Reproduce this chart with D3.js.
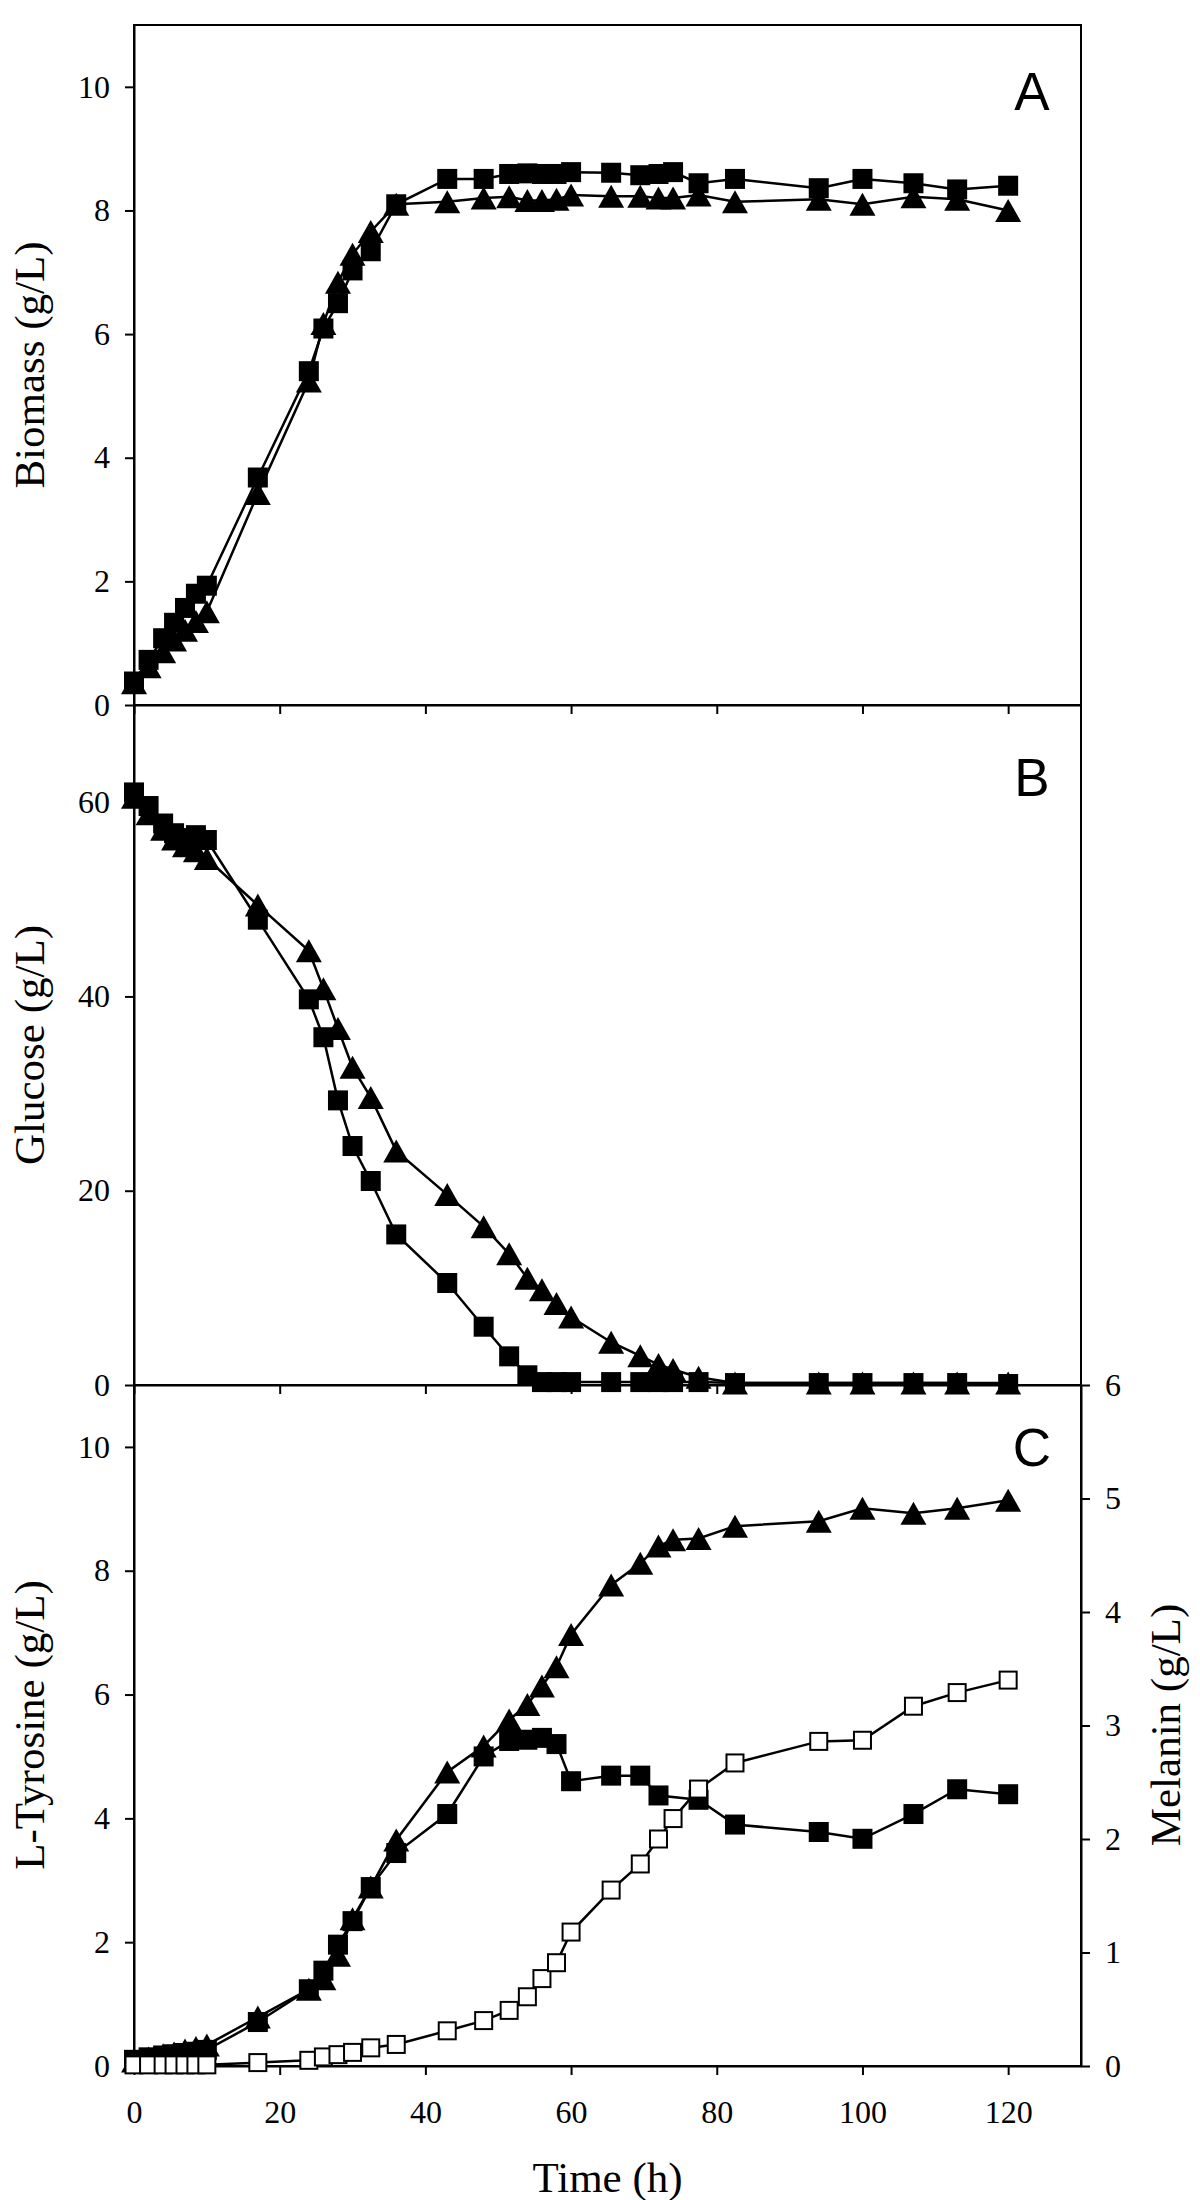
<!doctype html>
<html>
<head>
  <meta charset="utf-8">
  <script src="https://cdnjs.cloudflare.com/ajax/libs/d3/7.8.5/d3.min.js"></script>
  <style>
    body { margin: 0; background: white; }
    text { font-family: 'Liberation Serif', 'Times New Roman', serif; fill: black; }
    .tick text { font-size: 32px; }
    .axis path, .axis line { stroke: black; stroke-width: 2px; }
    .title { font-size: 43px; }
    .panel-label { font-family: 'Liberation Sans', Arial, sans-serif; font-size: 53px; }
  </style>
</head>
<body>
  <script>
    // sampling times (h)
    const times = [0, 2, 4, 5.5, 7, 8.5, 10, 17, 24, 26, 28, 30, 32.5, 36, 43, 48, 51.5, 54, 56, 58, 60,
                   65.5, 69.5, 72, 74, 77.5, 82.5, 94, 100, 107, 113, 120];

    // A: biomass (g/L)
    const biomassSquare = [0.38, 0.73, 1.08, 1.33, 1.57, 1.8, 1.93, 3.68, 5.4, 6.09, 6.5, 7.03, 7.34, 8.1, 8.51,
                           8.51, 8.59, 8.6, 8.59, 8.59, 8.62, 8.61, 8.57, 8.59, 8.62, 8.44, 8.51, 8.36, 8.51, 8.44, 8.34, 8.4];
    const biomassTriangle = [0.36, 0.62, 0.86, 1.05, 1.21, 1.35, 1.51, 3.42, 5.24, 6.17, 6.84, 7.29, 7.66, 8.1, 8.14,
                             8.2, 8.22, 8.16, 8.16, 8.18, 8.25, 8.23, 8.23, 8.2, 8.2, 8.25, 8.14, 8.18, 8.1, 8.22, 8.18, 8.0];

    // B: glucose (g/L)
    const glucoseSquare = [61.0, 59.6, 57.8, 56.8, 56.3, 56.6, 56.1, 47.9, 39.7, 35.8, 29.3, 24.6, 21.0, 15.5, 10.5,
                           6.0, 2.95, 1.0, 0.3, 0.3, 0.3, 0.3, 0.3, 0.3, 0.3, 0.3, 0.2, 0.2, 0.2, 0.2, 0.2, 0.1];
    const glucoseTriangle = [60.5, 58.8, 57.2, 56.2, 55.5, 55.0, 54.2, 49.4, 44.7, 40.8, 36.7, 32.7, 29.6, 24.1, 19.6,
                             16.3, 13.5, 11.0, 9.8, 8.4, 7.0, 4.4, 3.0, 2.1, 1.6, 0.8, 0.2, 0.2, 0.2, 0.2, 0.2, 0.2];

    // C: L-tyrosine (g/L, left axis) and melanin (g/L, right axis)
    const tyrosineSquare = [0.1, 0.14, 0.17, 0.19, 0.21, 0.23, 0.26, 0.71, 1.24, 1.54, 1.96, 2.34, 2.89, 3.44, 4.07,
                            5.0, 5.25, 5.27, 5.3, 5.2, 4.6, 4.69, 4.69, 4.37, null, 4.3, 3.9, 3.78, 3.67, 4.07, 4.47, 4.39];
    const tyrosineTriangle = [0.08, 0.13, 0.18, 0.21, 0.26, 0.3, 0.34, 0.79, 1.24, 1.41, 1.79, 2.38, 2.89, 3.65, 4.75,
                              5.17, 5.59, 5.84, 6.14, 6.45, 6.97, 7.77, 8.12, 8.4, 8.5, 8.52, 8.72, 8.8, 9.01, 8.93, 9.01, 9.14];
    const melanin = [0.01, 0.01, 0.01, 0.01, 0.01, 0.01, 0.01, 0.03, 0.05, 0.08, 0.1, 0.12, 0.16, 0.19, 0.31,
                     0.4, 0.49, 0.61, 0.77, 0.91, 1.18, 1.55, 1.78, 2.0, 2.18, 2.44, 2.67, 2.86, 2.87, 3.17, 3.29, 3.4];

    const xTicks = [0, 20, 40, 60, 80, 100, 120];

    const width = 1200, height = 2200;
    const left = 134, right = 1081;
    const tickLen = 9;

    const svg = d3.select('body').append('svg')
      .attr('width', width)
      .attr('height', height);

    const x = d3.scaleLinear().domain([0, 130]).range([left, right]);
    const yA = d3.scaleLinear().domain([0, 11]).range([705, 25]);
    const yB = d3.scaleLinear().domain([0, 70]).range([1385, 705]);
    const yC = d3.scaleLinear().domain([0, 11]).range([2066, 1385]);
    const yM = d3.scaleLinear().domain([0, 6]).range([2066, 1385]);

    const tri = 'M0,-11.5L13,11.5L-13,11.5Z';
    const fmt = d3.format('d');

    function frame(yScale) {
      const [y0, y1] = yScale.range();
      svg.append('rect')
        .attr('x', left).attr('y', y1)
        .attr('width', right - left).attr('height', y0 - y1)
        .attr('fill', 'none').attr('stroke', 'black').attr('stroke-width', 2);
    }

    function bottomAxis(yScale, labels) {
      svg.append('g').attr('class', 'axis')
        .attr('transform', `translate(0,${yScale.range()[0]})`)
        .call(d3.axisBottom(x).tickValues(xTicks).tickSize(tickLen).tickSizeOuter(0)
          .tickPadding(25).tickFormat(labels ? fmt : ''));
    }

    function leftAxis(yScale, ticks) {
      svg.append('g').attr('class', 'axis')
        .attr('transform', `translate(${left},0)`)
        .call(d3.axisLeft(yScale).tickValues(ticks).tickSize(tickLen).tickSizeOuter(0)
          .tickPadding(15).tickFormat(fmt));
    }

    function series(yScale, values, shape) {
      const pts = times.map((t, i) => [t, values[i]]).filter(d => d[1] != null);
      svg.append('path')
        .datum(pts)
        .attr('fill', 'none')
        .attr('stroke', 'black')
        .attr('stroke-width', 2.5)
        .attr('d', d3.line().x(d => x(d[0])).y(d => yScale(d[1])));
      const g = svg.append('g');
      pts.forEach(d => {
        const cx = x(d[0]), cy = yScale(d[1]);
        if (shape === 'square') {
          g.append('rect').attr('x', cx - 10).attr('y', cy - 10)
            .attr('width', 20).attr('height', 20).attr('fill', 'black');
        } else if (shape === 'open') {
          g.append('rect').attr('x', cx - 8.5).attr('y', cy - 8.5)
            .attr('width', 17).attr('height', 17)
            .attr('fill', 'white').attr('stroke', 'black').attr('stroke-width', 2);
        } else {
          g.append('path').attr('d', tri)
            .attr('transform', `translate(${cx},${cy})`).attr('fill', 'black');
        }
      });
    }

    function panelLabel(txt, y) {
      svg.append('text').attr('class', 'panel-label')
        .attr('x', 1032).attr('y', y)
        .attr('text-anchor', 'middle')
        .text(txt);
    }

    function yTitle(txt, cx, cy) {
      svg.append('text').attr('class', 'title')
        .attr('transform', `translate(${cx},${cy}) rotate(-90)`)
        .attr('text-anchor', 'middle')
        .text(txt);
    }

    // panel A
    frame(yA);
    bottomAxis(yA, false);
    leftAxis(yA, [0, 2, 4, 6, 8, 10]);
    series(yA, biomassSquare, 'square');
    series(yA, biomassTriangle, 'triangle');
    panelLabel('A', 110);
    yTitle('Biomass (g/L)', 44, 365);

    // panel B
    frame(yB);
    bottomAxis(yB, false);
    leftAxis(yB, [0, 20, 40, 60]);
    series(yB, glucoseSquare, 'square');
    series(yB, glucoseTriangle, 'triangle');
    panelLabel('B', 796);
    yTitle('Glucose (g/L)', 44, 1045);

    // panel C
    frame(yC);
    bottomAxis(yC, true);
    leftAxis(yC, [0, 2, 4, 6, 8, 10]);
    svg.append('g').attr('class', 'axis')
      .attr('transform', `translate(${right},0)`)
      .call(d3.axisRight(yM).tickValues([0, 1, 2, 3, 4, 5, 6]).tickSize(tickLen).tickSizeOuter(0)
        .tickPadding(15).tickFormat(fmt));
    series(yC, tyrosineSquare, 'square');
    series(yC, tyrosineTriangle, 'triangle');
    series(yM, melanin, 'open');
    panelLabel('C', 1466);
    yTitle('L-Tyrosine (g/L)', 44, 1725);
    yTitle('Melanin (g/L)', 1180, 1725);

    svg.append('text').attr('class', 'title')
      .attr('x', (left + right) / 2).attr('y', 2192)
      .attr('text-anchor', 'middle')
      .text('Time (h)');
  </script>
</body>
</html>
